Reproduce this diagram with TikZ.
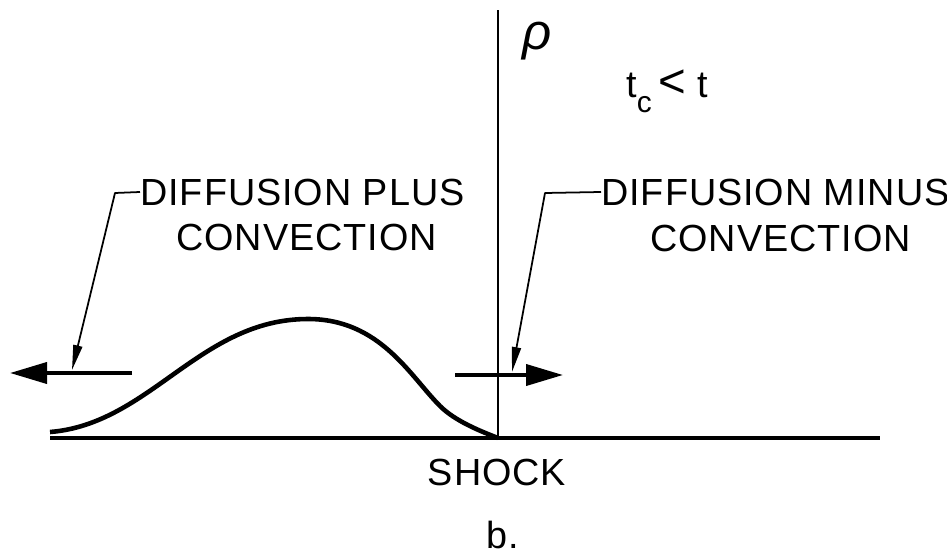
\documentclass[tikz,border=0pt]{standalone}
\usepackage{fontspec}
\setmainfont{Liberation Sans}
\usetikzlibrary{arrows.meta,positioning}

\begin{document}
\begin{tikzpicture}[
  x=0.2mm,y=0.2mm,
  lbl/.style={font=\fontsize{21.5}{26}\selectfont\addfontfeature{LetterSpace=2.5}, inner sep=0pt, anchor=base west},
  axisln/.style={line width=2pt},
  shockln/.style={line width=1.6pt},
  prof/.style={line width=2.6pt, line join=round},
  flow/.style={-{Triangle[length=7.4mm,width=4.2mm]}, line width=2.2pt},
  lead/.style={-{Triangle[length=5mm,width=1.8mm]}, line width=1pt, line join=round},
]
\useasboundingbox (0,0) rectangle (947,556);

% axis and shock line
\coordinate (o) at (50,118);
\coordinate (e) at (880,118);
\coordinate (sk) at (498,118);
\coordinate (skt) at (498,546);
\draw[axisln] (o) -- (e);
\draw[shockln] (sk) -- (skt);

% density profile behind the shock
\draw[prof] (50,124) .. controls (150,132) and (200,237) .. (308,237)
  .. controls (380,237) and (410,180) .. (440,150)
  .. controls (455,135) and (480,125) .. (sk);

% flux arrows
\coordinate (la0) at (132,183);
\coordinate (la1) at (10,183);
\coordinate (ra0) at (455,181);
\coordinate (ra1) at (563,181);
\draw[flow] (la0) -- (la1);
\draw[flow] (ra0) -- (ra1);

% labels
\node[font=\fontsize{29}{30}\selectfont\itshape, inner sep=0pt] (rho) at (537,515) {ρ};
\node[lbl] (tc) at (626,458) {t\raisebox{-8.5pt}{\fontsize{17}{17}\selectfont c}\hspace{4pt}{\fontsize{27}{27}\selectfont <}\hspace{6pt}t};
\node[lbl] (plus) at (140,351) {DIFFUSION PLUS};
\node[lbl] (plusb) at (176,306) {CONVECTION};
\node[lbl] (minus) at (601,351) {DIFFUSION MINUS};
\node[lbl] (minusb) at (650,305) {CONVECTION};
\node[lbl, anchor=base] (shock) at (497,71) {SHOCK};
\node[lbl, anchor=base] (bcap) at (503,8) {b.};

% leaders
\coordinate (lk) at (115,363);
\coordinate (lt) at (72,186);
\coordinate (rk) at (545,363);
\coordinate (rt) at (512,184);
\draw[lead] (plus.west) -- (lk) -- (lt);
\draw[lead] (minus.west) -- (rk) -- (rt);

\end{tikzpicture}
\end{document}
